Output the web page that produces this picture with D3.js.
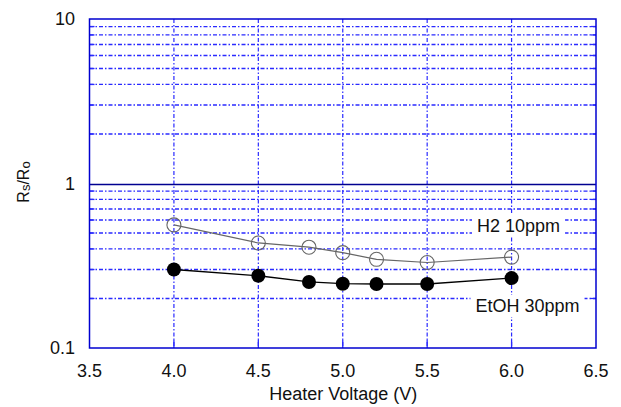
<!DOCTYPE html>
<html><head><meta charset="utf-8">
<script src="https://cdn.jsdelivr.net/npm/d3@7"></script>
<style>body{margin:0;background:#fff}svg{display:block;font-family:"Liberation Sans",Arial,sans-serif}</style>
</head><body><svg id="c" width="621" height="407"></svg>
<script>
const voltages = [4.0, 4.5, 4.8, 5.0, 5.2, 5.5, 6.0];
const h2Values = [0.56, 0.435, 0.41, 0.38, 0.346, 0.331, 0.357];
const etohValues = [0.30, 0.275, 0.252, 0.246, 0.245, 0.245, 0.266];
const xTicks = [3.5, 4.0, 4.5, 5.0, 5.5, 6.0, 6.5];
const yTicks = [0.1, 1, 10];
const yTickLabels = ["0.1", "1", "10"];
const seriesLabels = ["H2 10ppm", "EtOH 30ppm"];

const svg = d3.select("#c");
const L = 89.5, R = 596, T = 19, B = 348;
const x = d3.scaleLinear().domain([3.5, 6.5]).range([L, R]);
const y = d3.scaleLog().domain([0.1, 10]).range([B, T]);
const blue = "#2a2aff";

// minor horizontal grid
const minors = [];
[0.1, 1].forEach(d => { for (let k = 2; k <= 9; k++) minors.push(d * k); });
svg.append("g").selectAll("line").data(minors).join("line")
  .attr("x1", L).attr("x2", R).attr("y1", d => y(d)).attr("y2", d => y(d))
  .attr("stroke", blue).attr("stroke-width", 1.3)
  .attr("stroke-dasharray", "4,2,1.5,2");
// vertical grid
svg.append("g").selectAll("line").data(xTicks.slice(1, -1)).join("line")
  .attr("x1", d => x(d)).attr("x2", d => x(d)).attr("y1", T).attr("y2", B)
  .attr("stroke", blue).attr("stroke-width", 1.2)
  .attr("stroke-dasharray", "4,2,1.5,2");
// major line at 1
svg.append("line").attr("x1", L).attr("x2", R).attr("y1", Math.round(y(1)) + 0.5).attr("y2", Math.round(y(1)) + 0.5)
  .attr("stroke", "#000090").attr("stroke-width", 1.3);
// inner tick marks
svg.append("g").selectAll("line").data(xTicks.slice(1, -1)).join("line")
  .attr("x1", d => x(d)).attr("x2", d => x(d)).attr("y1", B).attr("y2", B - 8)
  .attr("stroke", blue).attr("stroke-width", 1.3);
svg.append("g").selectAll("line").data(minors).join("line")
  .attr("x1", L).attr("x2", L + 5).attr("y1", d => y(d)).attr("y2", d => y(d))
  .attr("stroke", blue).attr("stroke-width", 1.3);
svg.append("g").selectAll("line").data(minors).join("line")
  .attr("x1", R).attr("x2", R - 5).attr("y1", d => y(d)).attr("y2", d => y(d))
  .attr("stroke", blue).attr("stroke-width", 1.3);
// frame
svg.append("rect").attr("x", L).attr("y", T).attr("width", R - L).attr("height", B - T)
  .attr("fill", "none").attr("stroke", "#0000d0").attr("stroke-width", 1.5);

// axis labels
svg.append("g").selectAll("text").data(xTicks).join("text")
  .attr("x", d => x(d)).attr("y", 377).attr("text-anchor", "middle")
  .attr("font-size", 18).attr("fill", "#111").text(d => d.toFixed(1));
svg.append("g").selectAll("text").data(yTicks).join("text")
  .attr("x", 75).attr("y", d => y(d) + 6).attr("text-anchor", "end")
  .attr("font-size", 18).attr("fill", "#111").text((d, i) => yTickLabels[i]);
svg.append("text").attr("x", x(5.0) + 0.5).attr("y", 400).attr("text-anchor", "middle")
  .attr("font-size", 18).attr("fill", "#111").text("Heater Voltage (V)");
const yl = svg.append("text").attr("transform", "translate(29,182) rotate(-90)")
  .attr("text-anchor", "middle").attr("font-size", 16).attr("fill", "#111");
yl.append("tspan").text("R");
yl.append("tspan").attr("font-size", 13).attr("dy", 1).text("s");
yl.append("tspan").attr("dy", -1).text("/R");
yl.append("tspan").attr("font-size", 13).attr("dy", 1).text("o");

// series labels with white background
const labPos = [[477, 232], [475.5, 312]];
seriesLabels.forEach((t, i) => {
  const g = svg.append("g");
  const tx = g.append("text").attr("x", labPos[i][0]).attr("y", labPos[i][1])
    .attr("font-size", 18).attr("fill", "#111").text(t);
  const bb = tx.node().getBBox();
  g.insert("rect", "text").attr("x", bb.x - 5).attr("y", bb.y - 1).attr("width", bb.width + 10).attr("height", bb.height + 2).attr("fill", "#fff");
});

// series
const line = d3.line().x(d => x(d[0])).y(d => y(d[1]));
const h2 = voltages.map((v, i) => [v, h2Values[i]]);
const et = voltages.map((v, i) => [v, etohValues[i]]);
svg.append("path").datum(h2).attr("d", line).attr("fill", "none").attr("stroke", "#666").attr("stroke-width", 1.2);
svg.append("path").datum(et).attr("d", line).attr("fill", "none").attr("stroke", "#000").attr("stroke-width", 1.3);
svg.append("g").selectAll("circle").data(h2).join("circle")
  .attr("cx", d => x(d[0])).attr("cy", d => y(d[1])).attr("r", 7)
  .attr("fill", "none").attr("stroke", "#666").attr("stroke-width", 1.1);
svg.append("g").selectAll("circle").data(et).join("circle")
  .attr("cx", d => x(d[0])).attr("cy", d => y(d[1])).attr("r", 7)
  .attr("fill", "#000");
</script></body></html>
